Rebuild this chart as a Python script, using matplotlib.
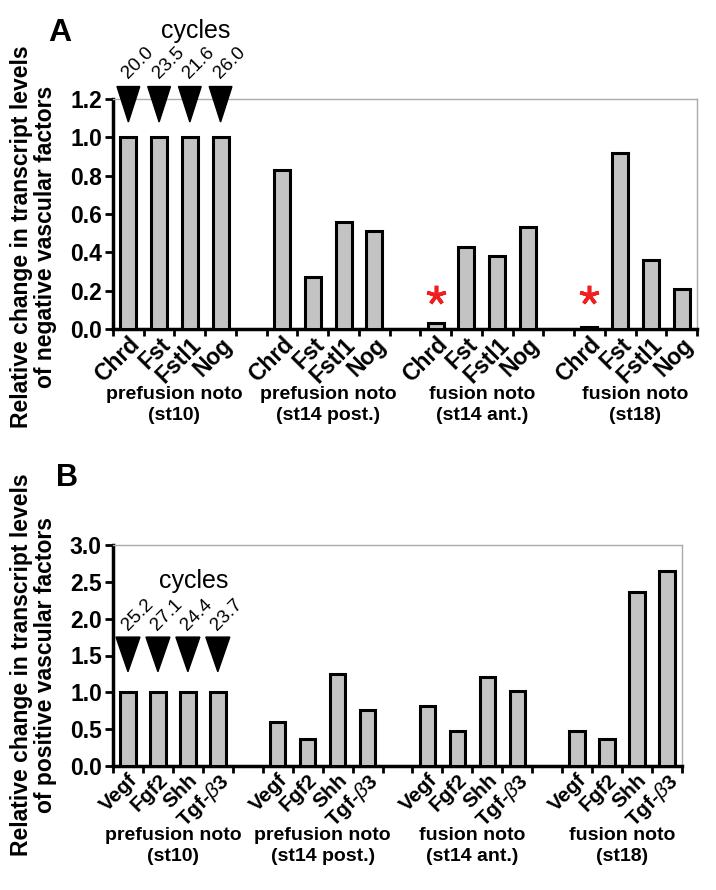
import matplotlib
matplotlib.use("Agg")
import matplotlib.pyplot as plt
from matplotlib.patches import Polygon

plt.rcParams['font.family'] = ['Liberation Sans', 'DejaVu Sans']
plt.rcParams['mathtext.fontset'] = 'custom'
plt.rcParams['mathtext.it'] = 'Liberation Sans:italic'

# data
groups = ["prefusion noto\n(st10)", "prefusion noto\n(st14 post.)",
          "fusion noto\n(st14 ant.)", "fusion noto\n(st18)"]
neg_genes = ["Chrd", "Fst", "Fstl1", "Nog"]
neg_values = [
    [1.00, 1.00, 1.00, 1.00],
    [0.83, 0.27, 0.56, 0.51],
    [0.03, 0.43, 0.38, 0.53],
    [0.01, 0.92, 0.36, 0.21],
]
neg_cycles = ["20.0", "23.5", "21.6", "26.0"]
neg_star_groups = [2, 3]   # groups where Chrd is marked
neg_star_y = 0.18

pos_genes = ["Vegf", "Fgf2", "Shh", r"Tgf-$\beta$3"]
pos_values = [
    [1.00, 1.00, 1.00, 1.00],
    [0.60, 0.37, 1.25, 0.76],
    [0.81, 0.48, 1.21, 1.02],
    [0.47, 0.36, 2.36, 2.65],
]
pos_cycles = ["25.2", "27.1", "24.4", "23.7"]


def panel(ax, genes, values, ylim, ystep, tri_top, tri_bot, tri_w, num_y,
          cyc_y, cycles, group_y, xfs):
    xs, hs, labels = [], [], []
    for g, vals in enumerate(values):
        for i, v in enumerate(vals):
            xs.append(g * 5 + i)
            hs.append(v)
            labels.append(genes[i])
    ax.bar(xs, hs, width=0.52, color='#c3c3c3', edgecolor='black',
           linewidth=2.2, zorder=3)
    ax.set_xlim(-0.5, 18.5)
    ax.set_ylim(0, ylim)
    n = int(round(ylim / ystep))
    ax.set_yticks([k * ystep for k in range(n + 1)])
    ax.set_yticklabels(["%.1f" % (k * ystep) for k in range(n + 1)],
                       fontsize=16.5, fontweight='bold')
    ax.set_xticks(xs)
    ax.set_xticklabels(labels, rotation=45, ha='right', rotation_mode='anchor',
                       fontsize=xfs, fontweight='bold')
    ax.set_xticks([k - 0.5 for k in range(20)], minor=True)
    ax.tick_params(axis='x', which='major', length=0, pad=3)
    ax.tick_params(axis='x', which='minor', length=5, width=2, direction='out')
    ax.tick_params(axis='y', length=6, width=2, direction='out', pad=2)
    for s in ['left', 'bottom']:
        ax.spines[s].set_linewidth(2.5)
    for s in ['top', 'right']:
        ax.spines[s].set_color('#aaaaaa')
        ax.spines[s].set_linewidth(1)

    # group labels
    for g, name in enumerate(groups):
        ax.text(g * 5 + 1.5, group_y, name, transform=ax.get_xaxis_transform(),
                ha='center', va='center', fontsize=14, fontweight='bold',
                linespacing=1.3)

    # cycle triangles and numbers on first group
    for i, c in enumerate(cycles):
        x = xs[i]
        tri = Polygon([[x - tri_w / 2, tri_top], [x + tri_w / 2, tri_top],
                       [x, tri_bot]],
                      closed=True, color='black', clip_on=False, zorder=5)
        ax.add_patch(tri)
        ax.text(x + 0.08, num_y, c, rotation=45, rotation_mode='anchor',
                ha='left', va='bottom', fontsize=13.5, clip_on=False)
    ax.text(2.2, cyc_y, "cycles", ha='center', va='center', fontsize=18)


fig = plt.figure(figsize=(7.16, 8.9), dpi=100)
axA = fig.add_axes([113 / 716, 1 - 329 / 890, 584 / 716, 230 / 890])
axB = fig.add_axes([113 / 716, 1 - 766 / 890, 569 / 716, 221 / 890])

panel(axA, neg_genes, neg_values, 1.2, 0.2, 1.265, 1.08, 0.74, 1.29, 1.555,
      neg_cycles, -0.33, 16.5)
panel(axB, pos_genes, pos_values, 3.0, 0.5, 1.75, 1.28, 0.8, 1.80, 2.51,
      pos_cycles, -0.36, 15)

for g in neg_star_groups:
    axA.plot(g * 5, neg_star_y, marker=(5, 2, 0), color='#f02020',
             markersize=14, markeredgewidth=2.6, zorder=6)

fig.text(0.047, 1 - 237 / 890,
         "Relative change in transcript levels\nof negative vascular factors",
         rotation=90, ha='center', va='center', fontsize=16.5,
         fontweight='bold', linespacing=1.08)
fig.text(0.047, 1 - 665 / 890,
         "Relative change in transcript levels\nof positive vascular factors",
         rotation=90, ha='center', va='center', fontsize=16.5,
         fontweight='bold', linespacing=1.08)
fig.text(60 / 716, 1 - 33 / 890, "A", fontsize=23, fontweight='bold',
         ha='center', va='center')
fig.text(67 / 716, 1 - 478 / 890, "B", fontsize=22, fontweight='bold',
         ha='center', va='center')

fig.savefig("out.png", dpi=100)
